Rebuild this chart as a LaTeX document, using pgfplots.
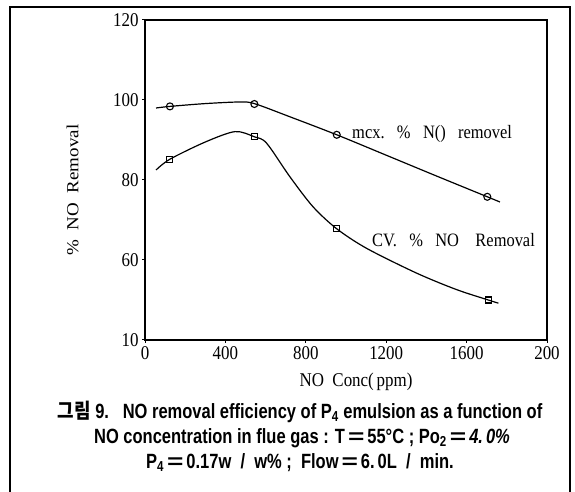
\documentclass[border=0pt]{standalone}
\usepackage{pgfplots}
\pgfplotsset{compat=1.18}
\usepackage{graphicx}
\usepackage{fontspec}
\setmainfont{Liberation Serif}
\newfontfamily\capfont[FakeStretch=0.92]{Liberation Sans}
\newfontfamily\krfont{Noto Sans CJK KR}

% the scanned figure is set slightly taller than wide
\newcommand\vs[1]{\scalebox{1}[1.15]{#1}}
\newcommand\tickfont{\fontsize{17}{19}\selectfont}
\newcommand\capsize{\fontsize{18}{20}\selectfont}
% the wide equals sign of the caption
\newcommand\eq{\,\scalebox{1.7}[1]{=}\,}

\begin{document}
\begin{tikzpicture}[x=1bp,y=1bp]
\path[use as bounding box] (0,0) rectangle (575,492);
% outer frame of the figure
\draw[line width=1.8bp] (10,0) -- (10,485) -- (570,485) -- (570,0);
\begin{axis}[
  at={(145bp,152bp)}, anchor=south west,
  scale only axis, width=402bp, height=320bp,
  xmin=0, xmax=2000, ymin=40, ymax=120,
  axis line style={line width=1.4bp},
  xtick={0,400,800,1200,1600,2000},
  xticklabels={\vs{0},\vs{400},\vs{800},\vs{1200},\vs{1600},\vs{200}},
  ytick={40,60,80,100,120},
  yticklabels={\vs{10},\vs{60},\vs{80},\vs{100},\vs{120}},
  xtick pos=bottom, ytick pos=left,
  tick align=outside, major tick length=3bp,
  tick style={line width=1bp, black},
  ticklabel style={font=\tickfont},
  /pgf/number format/assume math mode=true,
  clip=false,
]
% mcx, % NO removal: fitted curve and measured points
\addplot[black, line width=1.2bp, smooth, tension=0.5] coordinates {
  (55,98.0) (124,98.4) (300,99.1) (470,99.5) (544,99.1) (721,95.8)
  (954,91.3) (1200,86.2) (1450,81.0) (1703,75.8) (1766,74.5)};
\addplot[black, only marks, mark=o, mark size=3.5bp, mark options={line width=1.1bp}] coordinates {
  (124,98.4) (544,99.0) (954,91.3) (1703,75.8)};
% CV, % NO removal: fitted curve and measured points
\addplot[black, line width=1.2bp, smooth, tension=0.5] coordinates {
  (55,82.5) (124,85.2) (300,89.5) (448,92.1) (544,90.8) (605,89.2)
  (721,80.8) (836,73.3) (954,67.8) (1103,62.9) (1352,56.7) (1550,52.6)
  (1708,50.0) (1758,49.2)};
\addplot[black, only marks, mark=square, mark size=3bp, mark options={line width=1.1bp}] coordinates {
  (124,85.2) (544,90.8) (954,67.8) (1708,50.0)};
\node[anchor=west, font=\fontsize{16.5}{18}\selectfont, inner sep=0pt] at (axis cs:1030,91.4)
  {\vs{mcx.\ \ \ \%\ \ \ N()\ \ \ removel}};
\node[anchor=west, font=\fontsize{16.5}{18}\selectfont, inner sep=0pt] at (axis cs:1129,65)
  {\vs{CV.\ \ \ \%\ \ \ NO\ \ \ \ Removal}};
\end{axis}
% axis titles
\node[font=\fontsize{17}{19}\selectfont] at (356,110) {\vs{NO\ \ Conc(\,ppm)}};
\node[font=\fontsize{17}{19}\selectfont, rotate=90] at (72.5,302) {\scalebox{1.12}[1]{\%\ \ NO\ \ Removal}};
% caption
\node[font=\capfont\capsize\bfseries] at (300,80)
  {\vs{{\krfont\bfseries 그림} 9.\ \ \ NO removal efficiency of P\textsubscript{4} emulsion as a function of}};
\node[font=\capfont\capsize\bfseries] at (302,54)
  {\vs{NO concentration in flue gas : T\eq 55\textdegree C ; Po\textsubscript{2}\eq\textit{4.\,0\%}}};
\node[font=\capfont\capsize\bfseries] at (300,29)
  {\vs{P\textsubscript{4}\eq 0.17w\ \ /\ \ w\%\ ;\ \ Flow\eq 6.\,0L\ \ /\ \ min.}};
\end{tikzpicture}
\end{document}
